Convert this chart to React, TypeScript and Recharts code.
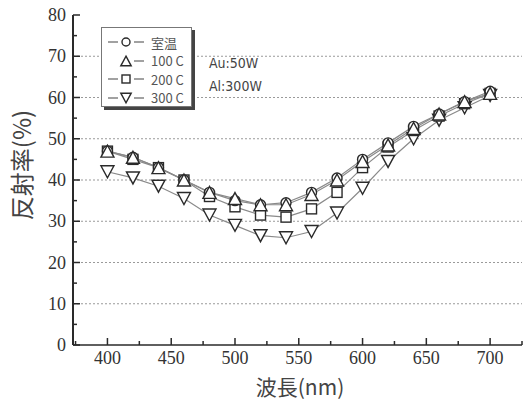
import React from 'react';
import { LineChart, Line, XAxis, YAxis, ReferenceLine } from 'recharts';

// wavelength samples (nm)
const wavelengths = [400, 420, 440, 460, 480, 500, 520, 540, 560, 580, 600, 620, 640, 660, 680, 700];

// reflectance (%) per substrate temperature
const roomTemp = [47, 45.5, 43, 40, 37, 35, 34, 34.5, 37, 40.5, 45, 49, 53, 56, 59, 61.5];
const temp100 = [47, 45.5, 43, 40, 37, 35.5, 34, 34, 36.5, 40, 44.5, 48.5, 52.5, 56, 59, 61];
const temp200 = [47, 45, 43, 40, 36, 33.5, 31.5, 31, 33, 37, 43, 48, 52, 55.5, 58.5, 61];
const temp300 = [42, 40.5, 38.5, 35.5, 31.5, 29, 26.5, 26, 27.5, 32, 38, 44.5, 50, 54.5, 57.5, 60.5];

const xTicks = [375, 400, 425, 450, 475, 500, 525, 550, 575, 600, 625, 650, 675, 700, 725];
const yTicks = [0, 5, 10, 15, 20, 25, 30, 35, 40, 45, 50, 55, 60, 65, 70, 75, 80];
const gridValues = [10, 20, 30, 40, 50, 60, 70];

const seriesNames = ['室温', '100 C', '200 C', '300 C'];
const annotations = ['Au:50W', 'Al:300W'];

const data = wavelengths.map((w, i) => ({
  w,
  rt: roomTemp[i],
  t100: temp100[i],
  t200: temp200[i],
  t300: temp300[i],
}));

const INK = '#2a2a2a';
const LINE = '#8a8a8a';
const SERIF = 'Liberation Serif';
const CJK = '"Noto Sans CJK JP", "Noto Sans", sans-serif';

type Shape = 'circle' | 'up' | 'square' | 'down';

function Marker({ cx, cy, shape, s = 1 }: { cx: number; cy: number; shape: Shape; s?: number }) {
  const p = { fill: '#fff', stroke: INK, strokeWidth: 1.4 };
  if (shape === 'circle') return <circle cx={cx} cy={cy} r={5 * s} {...p} />;
  if (shape === 'square') return <rect x={cx - 5 * s} y={cy - 5 * s} width={10 * s} height={10 * s} {...p} />;
  const w = 6.5 * s;
  const h = 6 * s;
  if (shape === 'up')
    return <polygon points={`${cx},${cy - h} ${cx + w},${cy + h} ${cx - w},${cy + h}`} {...p} />;
  return <polygon points={`${cx - w},${cy - h} ${cx + w},${cy - h} ${cx},${cy + h}`} {...p} />;
}

const dotFor = (shape: Shape) => (props: any) => {
  const { cx, cy, index } = props;
  if (cx == null || cy == null) return <g key={`${shape}-${index}`} />;
  return (
    <g key={`${shape}-${index}`}>
      <Marker cx={cx} cy={cy} shape={shape} />
    </g>
  );
};

const BottomTick = ({ x, y, payload }: any) => {
  const v = payload.value;
  const major = v % 50 === 0;
  return (
    <g>
      <line x1={x} y1={y} x2={x} y2={y - (major ? 7 : 4)} stroke={INK} strokeWidth={1.5} />
      {major && (
        <text x={x} y={y + 19} textAnchor="middle" fontFamily={SERIF} fontSize={18} fill="#333">
          {v}
        </text>
      )}
    </g>
  );
};

const TopTick = ({ x, y, payload }: any) => {
  const major = payload.value % 50 === 0;
  return <line x1={x} y1={y} x2={x} y2={y + (major ? 7 : 4)} stroke={INK} strokeWidth={1.5} />;
};

const LeftTick = ({ x, y, payload }: any) => {
  const v = payload.value;
  const major = v % 10 === 0;
  return (
    <g>
      <line x1={x} y1={y} x2={x + (major ? 7 : 4)} y2={y} stroke={INK} strokeWidth={1.5} />
      {major && (
        <text x={x - 7} y={y + 6} textAnchor="end" fontFamily={SERIF} fontSize={18} fill="#333">
          {v}
        </text>
      )}
    </g>
  );
};

const RightTick = ({ x, y, payload }: any) => {
  const major = payload.value % 10 === 0;
  return <line x1={x} y1={y} x2={x - (major ? 7 : 4)} y2={y} stroke={INK} strokeWidth={1.5} />;
};

const legendShapes: Shape[] = ['circle', 'up', 'square', 'down'];

function LegendBox() {
  return (
    <div
      style={{
        position: 'absolute',
        left: 101,
        top: 27,
        width: 89,
        height: 78,
        background: '#fff',
        border: '1px solid #777',
        boxShadow: '3px 3px 0 #444',
      }}
    >
      {seriesNames.map((name, i) => (
        <div key={name} style={{ position: 'absolute', left: 3, top: 5 + i * 18.5, height: 18, display: 'flex', alignItems: 'center' }}>
          <svg width={42} height={18}>
            {i !== 1 && <line x1={3} y1={9} x2={13} y2={9} stroke="#555" strokeWidth={1.1} />}
            <line x1={29} y1={9} x2={39} y2={9} stroke="#555" strokeWidth={1.1} />
            <Marker cx={21} cy={9} shape={legendShapes[i]} s={0.8} />
          </svg>
          <span style={{ fontFamily: CJK, fontSize: 13, lineHeight: 1, color: '#555', marginLeft: 4, whiteSpace: 'nowrap' }}>{name}</span>
        </div>
      ))}
    </div>
  );
}

export default function App() {
  return (
    <div style={{ position: 'absolute', left: 0, top: 0, width: 524, height: 401, background: '#fff', overflow: 'hidden' }}>
      <LineChart width={524} height={401} data={data} margin={{ top: 15, right: 2, left: 0, bottom: 0 }}>
        <XAxis
          dataKey="w"
          type="number"
          domain={[373, 725]}
          ticks={xTicks}
          height={56}
          tickSize={0}
          tickMargin={0}
          stroke={INK}
          strokeWidth={1.5}
          tick={BottomTick}
          interval={0}
        />
        <XAxis
          xAxisId="top"
          orientation="top"
          dataKey="w"
          type="number"
          domain={[373, 725]}
          ticks={xTicks}
          height={0}
          tickSize={0}
          tickMargin={0}
          stroke={INK}
          strokeWidth={1.5}
          tick={TopTick}
          interval={0}
        />
        <YAxis
          type="number"
          domain={[0, 80]}
          ticks={yTicks}
          width={73}
          tickSize={0}
          tickMargin={0}
          stroke={INK}
          strokeWidth={2}
          tick={LeftTick}
          interval={0}
        />
        <YAxis
          yAxisId="right"
          orientation="right"
          type="number"
          domain={[0, 80]}
          ticks={yTicks}
          width={0}
          tickSize={0}
          tickMargin={0}
          stroke={INK}
          strokeWidth={1.5}
          tick={RightTick}
          interval={0}
        />
        {gridValues.map((v) => (
          <ReferenceLine key={v} y={v} stroke="#9a9a9a" strokeWidth={1.2} strokeDasharray="2 2" />
        ))}
        <Line dataKey="t300" type="linear" stroke={LINE} strokeWidth={1.2} dot={dotFor('down')} isAnimationActive={false} />
        <Line dataKey="t200" type="linear" stroke={LINE} strokeWidth={1.2} dot={dotFor('square')} isAnimationActive={false} />
        <Line dataKey="rt" type="linear" stroke={LINE} strokeWidth={1.2} dot={dotFor('circle')} isAnimationActive={false} />
        <Line dataKey="t100" type="linear" stroke={LINE} strokeWidth={1.2} dot={dotFor('up')} isAnimationActive={false} />
      </LineChart>

      <LegendBox />

      {annotations.map((t, i) => (
        <div
          key={t}
          style={{
            position: 'absolute',
            left: 209,
            top: 56 + i * 23,
            fontFamily: '"DejaVu Sans Condensed", "Liberation Sans", sans-serif',
            fontSize: 14,
            lineHeight: 1,
            color: '#444',
          }}
        >
          {t}
        </div>
      ))}

      <div
        style={{
          position: 'absolute',
          left: 21,
          top: 165,
          transform: 'translate(-50%, -50%) rotate(-90deg)',
          fontFamily: CJK,
          fontSize: 24,
          lineHeight: 1,
          color: '#444',
          whiteSpace: 'nowrap',
        }}
      >
        反射率(%)
      </div>
      <div
        style={{
          position: 'absolute',
          left: 300,
          top: 386,
          transform: 'translate(-50%, -50%)',
          fontFamily: CJK,
          fontSize: 21,
          lineHeight: 1,
          color: '#444',
          whiteSpace: 'nowrap',
        }}
      >
        波長(nm)
      </div>
    </div>
  );
}
